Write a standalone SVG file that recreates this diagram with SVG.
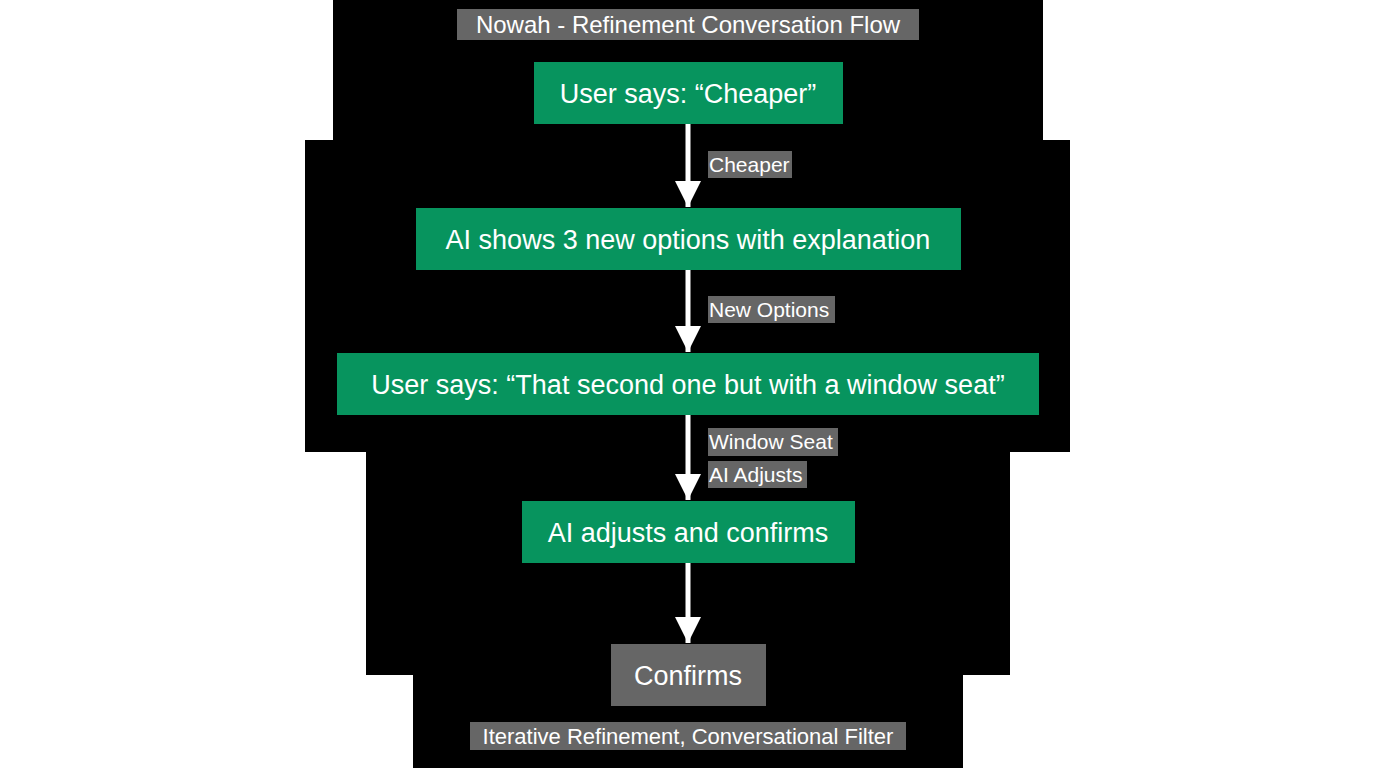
<svg xmlns="http://www.w3.org/2000/svg" width="1376" height="768" viewBox="0 0 1376 768">
<defs>
<style>
.g{fill:#07945e}.gr{fill:#666}.t{font-family:"Liberation Sans",Arial,sans-serif;fill:#fff;text-anchor:middle}
.n{font-size:27px}.l{font-size:21px;text-anchor:start}.c{stroke:#fff;stroke-width:5}
</style>
<marker id="ah" markerWidth="26" markerHeight="26" refX="26" refY="13" orient="auto" markerUnits="userSpaceOnUse" viewBox="0 0 26 26"><path d="M0,0 L26,13 L0,26 Z" fill="#fff"/></marker>
</defs>
<rect width="1376" height="768" fill="#fff"/>
<path d="M333,0 H1043 V140 H1070 V452 H1010 V675 H963 V768 H413 V675 H366 V452 H305 V140 H333 Z" fill="#000"/>
<g id="title"><rect class="gr" x="457" y="9" width="462" height="31"/><text class="t" x="688" y="33" font-size="24">Nowah - Refinement Conversation Flow</text></g>
<g id="n1"><rect class="g" x="534" y="62" width="309" height="62"/><text class="t n" x="688" y="103">User says: “Cheaper”</text></g>
<g id="n2"><rect class="g" x="416" y="208" width="545" height="62"/><text class="t n" x="688" y="249">AI shows 3 new options with explanation</text></g>
<g id="n3"><rect class="g" x="337" y="353" width="702" height="62"/><text class="t n" x="688" y="394">User says: “That second one but with a window seat”</text></g>
<g id="n4"><rect class="g" x="522" y="501" width="333" height="62"/><text class="t n" x="688" y="542">AI adjusts and confirms</text></g>
<g id="n5"><rect class="gr" x="611" y="644" width="155" height="62"/><text class="t n" x="688" y="685">Confirms</text></g>
<g id="footer"><rect class="gr" x="470" y="722" width="436" height="28"/><text class="t" x="688" y="744" font-size="22">Iterative Refinement, Conversational Filter</text></g>
<g id="connectors">
<line class="c" x1="688" y1="124" x2="688" y2="207" marker-end="url(#ah)"/>
<line class="c" x1="688" y1="270" x2="688" y2="352" marker-end="url(#ah)"/>
<line class="c" x1="688" y1="415" x2="688" y2="500" marker-end="url(#ah)"/>
<line class="c" x1="688" y1="563" x2="688" y2="643" marker-end="url(#ah)"/>
<rect class="gr" x="708" y="151" width="84" height="27"/><text class="t l" x="709" y="172">Cheaper</text>
<rect class="gr" x="708" y="296" width="127" height="27"/><text class="t l" x="709" y="317">New Options</text>
<rect class="gr" x="708" y="428" width="130" height="28"/><text class="t l" x="709" y="449">Window Seat</text>
<rect class="gr" x="708" y="461" width="99" height="27"/><text class="t l" x="709" y="482">AI Adjusts</text>
</g>
</svg>
